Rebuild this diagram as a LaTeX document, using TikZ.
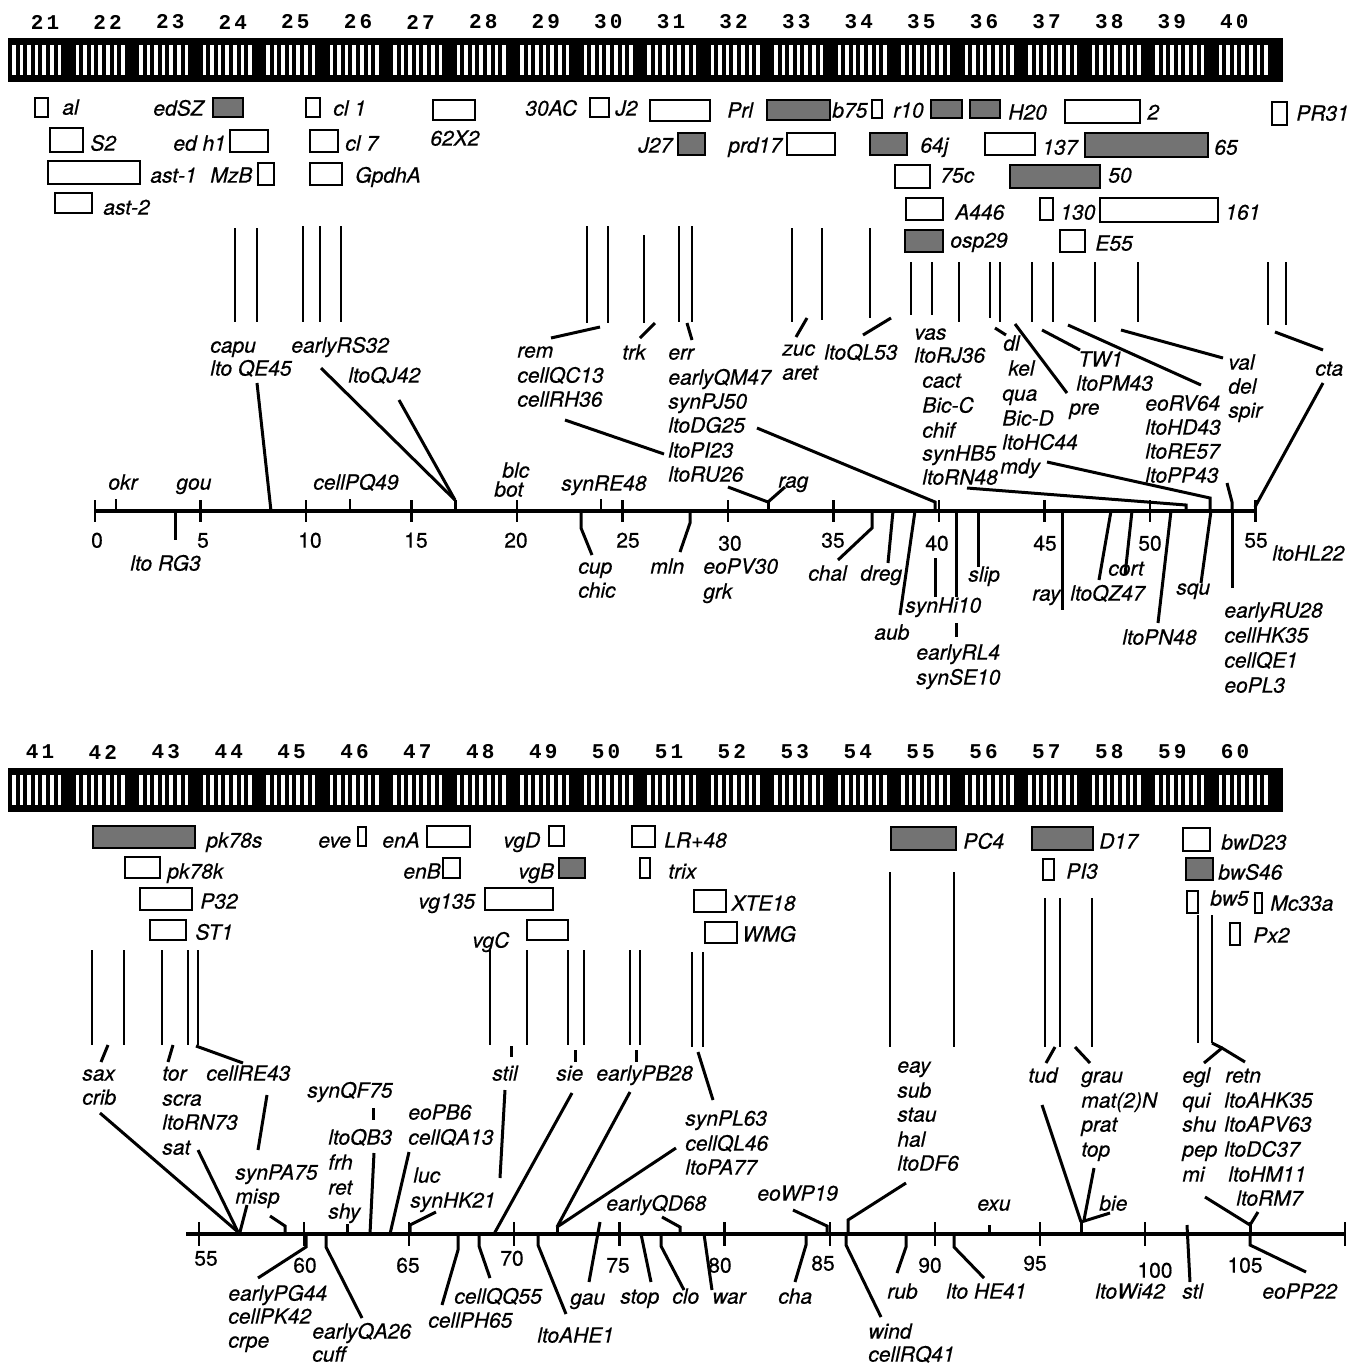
\documentclass[tikz,border=0pt]{standalone}
\usepackage{fontspec}
\setmainfont{TeX Gyre Heros}
\newfontfamily\labfont{TeX Gyre Heros}[FakeBold=0.5]
\newfontfamily\bandfont{Liberation Mono}[LetterSpace=15]

\begin{document}
\begin{tikzpicture}[x=0.5pt, y=-0.5pt,
    lab/.style={font=\labfont\itshape\fontsize{10.5}{12}\selectfont, inner sep=0pt, anchor=west, text height=8.6pt, text depth=1pt},
    num/.style={font=\labfont\fontsize{10.5}{12}\selectfont, inner sep=0pt, text height=8.6pt, text depth=1pt},
    band/.style={font=\bandfont\bfseries\fontsize{10.5}{12}\selectfont, inner sep=0pt},
    clone/.style={draw, line width=1.2pt},
    dark/.style={clone, fill=black!55},
    probe/.style={line width=1pt},
    link/.style={line width=1.5pt},
    axis/.style={line width=2pt},
    tick/.style={line width=1.1pt}]
    \useasboundingbox (0,0) rectangle (1351,1367);

    % 1. Chromosome bars with bands
    \foreach \top/\bot in {38/82, 768/812} {
        \fill (8,\top) rectangle (1283,\bot);
        \foreach \d in {0,...,19}
            \foreach \s in {0,...,6}
                \fill[white] ({12+\d*63.5+\s*7.6},\top+7) rectangle +(3.6,\bot-\top-14);
    }
    \foreach \n in {21,...,40}
        \node[band] (b\n) at ({45+(\n-21)*62.6},22) {\n};
    \foreach \n in {41,...,60}
        \node[band] (b\n) at ({40+(\n-41)*62.9},752) {\n};

    % 2. Clones above the top map
    \foreach \a/\b/\c/\d in {35/98/48/117, 306/98/320/117, 433/100/475/120, 590/98/609/117,
        650/100/710/121, 872/100/882/118, 1065/100/1140/123, 1272/102/1287/125,
        50/128/83/152, 230/130/268/152, 310/130/338/152, 787/133/835/155, 985/133/1035/155,
        48/161/140/184, 258/163/274/185, 310/163/342/185, 895/165/930/188,
        55/193/92/213, 906/198/943/220, 1040/198/1053/220, 1100/198/1218/222, 1060/230/1085/252}
        \draw[clone] (\a,\b) rectangle (\c,\d);
    \foreach \a/\b/\c/\d in {213/98/243/117, 767/100/830/120, 931/100/962/118, 970/100/1000/118,
        678/133/705/155, 870/133/907/155, 1085/133/1208/157, 1010/165/1100/188, 905/230/943/252}
        \draw[dark] (\a,\b) rectangle (\c,\d);
    \foreach \x/\y/\txt [count=\i] in {62/107/al, 153/108/edSZ, 333/108/cl 1, 525/108/30AC, 615/108/J2,
        727/110/Prl, 832/110/b75, 893/110/r10, 1008/112/H20, 1147/112/2, 1296/113/PR31,
        90/143/S2, 173/143/ed h1, 345/143/cl 7, 430/138/62X2, 638/145/J27, 728/145/prd17,
        920/145/64j, 1042/147/137, 1214/147/65,
        150/175/ast-1, 210/175/MzB, 355/175/GpdhA, 940/175/75c, 1108/175/50,
        103/207/ast-2, 955/212/A446, 1060/212/130, 1225/212/161, 950/240/osp29, 1095/243/E55}
        \node[lab] (c\i) at (\x,\y) {\txt};

    % 3. Probe lines and labels of the top map
    \foreach \x/\a/\b in {235/228/322, 257/228/322, 303/226/322, 320/226/322, 341/226/322,
        587/226/323, 608/226/323, 644/235/323, 679/226/322, 692/226/322,
        792/228/322, 822/228/320, 870/228/318,
        911/262/315, 932/262/315, 959/262/322, 990/262/318, 1000/262/322, 1032/262/322,
        1053/262/322, 1095/262/322, 1138/262/322, 1268/262/325, 1286/262/325}
        \draw[probe] (\x,\a) -- (\x,\b);
    \foreach \x/\y/\txt [count=\i] in {210/345/capu, 210/368/lto QE45, 291/345/earlyRS32, 348/375/ltoQJ42,
        517/350/rem, 517/375/cellQC13, 517/399/cellRH36, 622/352/trk,
        668/352/err, 668/377/earlyQM47, 668/401/synPJ50, 668/425/ltoDG25, 668/450/ltoPI23, 668/474/ltoRU26,
        782/348/zuc, 782/372/aret, 824/352/ltoQL53,
        914/332/vas, 914/355/ltoRJ36, 922/380/cact, 922/405/Bic-C, 922/430/chif, 922/453/synHB5, 922/477/ltoRN48,
        1003/343/dl, 1008/368/kel, 1002/393/qua, 1002/418/Bic-D, 1002/442/ltoHC44, 1000/466/mdy,
        1078/359/TW1, 1076/383/ltoPM43, 1069/407/pre,
        1145/403/eoRV64, 1145/427/ltoHD43, 1145/451/ltoRE57, 1145/475/ltoPP43,
        1228/362/val, 1228/386/del, 1228/410/spir, 1315/368/cta,
        108/482/okr, 176/482/gou, 313/482/cellPQ49, 502/470/blc, 494/489/bot, 561/483/synRE48, 778/480/rag,
        130/563/lto RG3, 578/566/cup, 578/590/chic, 650/566/mln, 703/566/eoPV30, 703/591/grk,
        808/573/chal, 860/573/dreg, 905/605/synHi10, 874/632/aub, 916/652/earlyRL4, 916/677/synSE10,
        968/574/slip, 1032/593/ray, 1070/593/ltoQZ47, 1108/568/cort, 1122/637/ltoPN48, 1176/587/squ,
        1272/553/ltoHL22, 1224/610/earlyRU28, 1224/635/cellHK35, 1224/660/cellQE1, 1224/685/eoPL3}
        \node[lab] (t\i) at (\x,\y) {\txt};

    % 4. Top map axis, ticks and links
    \draw[axis] (95,511) -- (1256,511);
    \foreach \u in {0,5,...,55}
        \draw[tick] ({95+21.1*\u},500) -- ({95+21.1*\u},522);
    \foreach \x in {116,350,601}
        \draw[tick] (\x,499) -- (\x,511);
    \foreach \x/\y/\txt [count=\i] in {97/540/0, 203/540/5, 310/540/10, 416/540/15, 516/540/20, 628/540/25,
        730/543/30, 833/540/35, 937/543/40, 1045/543/45, 1150/543/50, 1256/540/55}
        \node[num] (n\i) at (\x,\y) {\txt};
    \foreach \a/\b/\c/\d in {257/383/271/511, 321/368/455/500, 399/400/455/500, 455/500/455/511,
        551/338/600/327, 640/338/655/323, 687/323/692/340, 807/318/796/337, 891/318/863/335,
        995/328/1006/335, 1015/324/1067/393, 1042/330/1080/350, 1068/325/1201/385,
        1121/330/1223/358, 1275/332/1323/350, 565/420/664/454, 1323/383/1255/507, 768/502/768/511,
        175/511/175/540, 893/511/888/563, 915/511/900/615, 935/558/935/597, 956/511/956/597,
        956/623/956/637, 978/511/978/567, 1062/511/1062/610, 1111/511/1099/580, 1132/511/1125/575,
        1171/511/1158/623, 1211/511/1201/583, 1232/511/1232/588}
        \draw[link] (\a,\b) -- (\c,\d);
    \foreach \a/\b/\c/\d/\e/\f in {728/487/768/502/785/487, 757/428/935/502/935/511,
        967/488/1186/505/1186/511, 1047/462/1210/498/1210/511, 1227/483/1232/502/1232/511,
        581/511/581/528/592/555, 690/511/690/523/680/552, 872/511/872/528/838/560}
        \draw[link] (\a,\b) -- (\c,\d) -- (\e,\f);

    % 5. Clones above the bottom map
    \foreach \a/\b/\c/\d in {358/827/366/846, 427/826/470/847, 549/826/564/846, 632/826/655/847,
        125/857/160/878, 443/858/460/878, 640/858/650/878,
        140/888/192/910, 485/888/553/910, 694/890/726/912,
        150/920/186/940, 527/920/568/940, 705/922/737/943,
        1183/828/1210/851, 1043/859/1054/880, 1187/891/1198/913, 1255/893/1262/913, 1230/923/1240/945}
        \draw[clone] (\a,\b) rectangle (\c,\d);
    \foreach \a/\b/\c/\d in {93/826/195/848, 559/858/585/878, 891/827/956/850, 1032/827/1093/850, 1186/858/1213/880}
        \draw[dark] (\a,\b) rectangle (\c,\d);
    \foreach \x/\y/\txt [count=\i] in {206/840/pk78s, 318/840/eve, 382/840/enA, 503/840/vgD, 664/840/LR+48,
        167/871/pk78k, 403/871/enB, 518/871/vgB, 668/871/trix,
        200/901/P32, 418/901/vg135, 731/903/XTE18,
        195/932/ST1, 472/940/vgC, 742/934/WMG,
        963/841/PC4, 1099/841/D17, 1221/842/bwD23,
        1066/871/PI3, 1218/872/bwS46, 1210/898/bw5, 1270/903/Mc33a, 1253/935/Px2}
        \node[lab] (d\i) at (\x,\y) {\txt};

    % 6. Probe lines and labels of the bottom map
    \foreach \x/\a/\b in {92/950/1045, 124/950/1045, 162/950/1045, 188/950/1045, 198/950/1045,
        490/950/1045, 527/950/1045, 568/950/1045, 584/950/1045, 630/950/1045, 640/950/1045,
        692/952/1047, 703/952/1047, 890/872/1047, 954/872/1047,
        1045/898/1047, 1060/898/1047, 1092/898/1047, 1198/915/1043, 1212/915/1043}
        \draw[probe] (\x,\a) -- (\x,\b);
    \foreach \x/\y/\txt [count=\i] in {82/1073/sax, 82/1097/crib, 162/1073/tor, 162/1098/scra,
        162/1122/ltoRN73, 162/1147/sat, 206/1073/cellRE43,
        307/1090/synQF75, 328/1137/ltoQB3, 328/1162/frh, 328/1187/ret, 328/1211/shy,
        408/1112/eoPB6, 408/1137/cellQA13, 413/1175/luc, 410/1200/synHK21,
        235/1172/synPA75, 235/1196/misp,
        492/1073/stil, 556/1073/sie, 596/1073/earlyPB28,
        685/1118/synPL63, 685/1143/cellQL46, 685/1167/ltoPA77,
        606/1203/earlyQD68, 757/1193/eoWP19,
        897/1065/eay, 897/1090/sub, 897/1114/stau, 897/1139/hal, 897/1163/ltoDF6,
        1028/1075/tud, 1081/1075/grau, 1081/1100/mat(2)N, 1081/1124/prat, 1081/1149/top,
        1099/1203/bie, 977/1203/exu,
        1182/1075/egl, 1182/1100/qui, 1182/1124/shu, 1182/1149/pep, 1182/1174/mi,
        1225/1075/retn, 1224/1100/ltoAHK35, 1224/1124/ltoAPV63, 1224/1149/ltoDC37,
        1228/1174/ltoHM11, 1236/1198/ltoRM7,
        228/1293/earlyPG44, 228/1316/cellPK42, 228/1340/crpe, 312/1331/earlyQA26, 312/1354/cuff,
        428/1320/cellPH65, 454/1296/cellQQ55, 537/1335/ltoAHE1,
        570/1297/gau, 620/1296/stop, 672/1296/clo, 712/1296/war, 778/1296/cha,
        868/1331/wind, 868/1354/cellRQ41, 887/1291/rub, 946/1291/lto HE41,
        1095/1291/ltoWi42, 1182/1291/stl, 1262/1291/eoPP22}
        \node[lab] (s\i) at (\x,\y) {\txt};

    % 7. Bottom map axis, ticks and links
    \draw[axis] (186,1234) -- (1345,1234);
    \foreach \u in {55,60,...,105}
        \draw[tick] ({199+21.02*(\u-55)},1222) -- ({199+21.02*(\u-55)},1246);
    \draw[tick] (1345,1222) -- (1345,1246);
    \foreach \x/\y/\txt [count=\i] in {206/1258/55, 305/1265/60, 408/1265/65, 512/1258/70, 618/1265/75,
        720/1265/80, 823/1263/85, 930/1265/90, 1035/1263/95, 1155/1270/100, 1245/1265/105}
        \node[num] (m\i) at (\x,\y) {\txt};
    \foreach \a/\b/\c/\d in {108/1045/101/1062, 173/1045/168/1062, 196/1046/243/1063,
        511/1046/511/1057, 575/1050/575/1062, 636/1050/636/1062, 698/1052/713/1100,
        1055/1047/1046/1063, 1075/1047/1090/1063,
        100/1113/238/1232, 198/1150/238/1232, 247/1205/240/1232, 267/1095/258/1150,
        373/1108/373/1120, 374/1153/370/1234, 347/1224/347/1234, 409/1152/390/1234,
        505/1090/500/1178, 572/1093/494/1234, 630/1092/557/1227, 676/1148/557/1227, 557/1227/557/1234,
        1042/1105/1081/1222, 1094/1168/1084/1220, 1110/1213/1081/1222, 1081/1222/1081/1234,
        989/1225/989/1234, 1187/1225/1190/1282, 1205/1197/1250/1225, 1258/1212/1250/1225,
        1250/1225/1250/1234, 600/1222/589/1282, 641/1234/651/1282, 704/1234/712/1290,
        1212/1043/1222/1048}
        \draw[link] (\a,\b) -- (\c,\d);
    \foreach \a/\b/\c/\d/\e/\f in {270/1216/285/1226/285/1234, 436/1212/410/1225/410/1234,
        662/1217/680/1227/680/1234, 793/1210/827/1226/827/1234, 906/1183/848/1220/848/1234,
        306/1234/306/1247/258/1278, 326/1234/326/1247/362/1318, 458/1234/458/1250/442/1305,
        479/1234/479/1246/490/1278, 538/1234/538/1245/566/1314, 661/1234/661/1246/684/1290,
        806/1234/806/1245/795/1282, 846/1234/846/1245/881/1317, 906/1234/906/1247/897/1273,
        954/1234/954/1247/984/1278, 1250/1234/1250/1245/1306/1272, 1204/1063/1222/1048/1245/1062}
        \draw[link] (\a,\b) -- (\c,\d) -- (\e,\f);
\end{tikzpicture}
\end{document}
